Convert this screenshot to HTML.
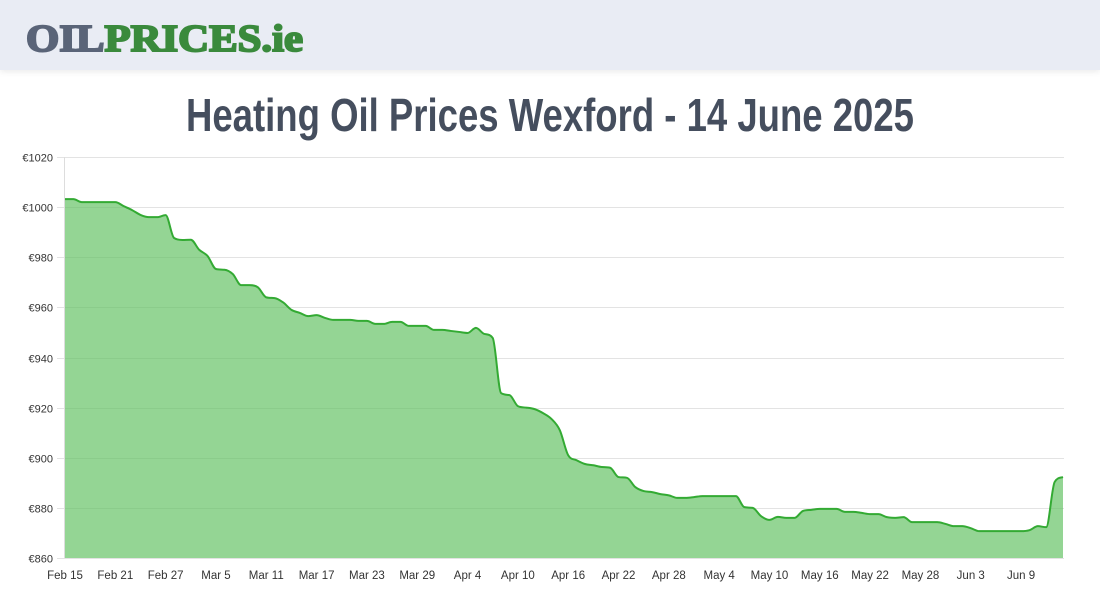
<!DOCTYPE html>
<html><head><meta charset="utf-8">
<style>
html,body{margin:0;padding:0;background:#fff;width:1100px;height:600px;overflow:hidden;font-family:"Liberation Sans",sans-serif}
#hdr{position:absolute;left:0;top:0;width:1100px;height:70px;background:#e9ecf4;box-shadow:0 2px 6px rgba(0,0,0,0.08)}
svg{position:absolute;left:0;top:0}
</style></head><body>
<div id="hdr"></div>
<svg id="chart" width="1100" height="600">
  <text x="26" y="51" font-family="Liberation Serif,serif" font-weight="bold" font-size="38" stroke-width="2" textLength="277" lengthAdjust="spacingAndGlyphs"><tspan fill="#5a6478" stroke="#5a6478">OIL</tspan><tspan fill="#3a8a3c" stroke="#3a8a3c">PRICES.ie</tspan></text>
  <text x="550" y="131" text-anchor="middle" font-family="'Liberation Sans Narrow','Liberation Sans',sans-serif" font-weight="bold" font-size="46" fill="#454e5e" textLength="728" lengthAdjust="spacingAndGlyphs">Heating Oil Prices Wexford - 14 June 2025</text>
  <g id="grid"></g>
  <g id="plot"></g>
  <g id="axes"></g>
</svg>
<script>
const prices=[1003.2,1003.2,1002,1002,1002,1002,1002,1000.4,998.8,996.9,996,996,996.8,987.7,986.9,987,983,980.5,975.3,975,973.3,968.9,968.9,968,964,963.7,962,959,957.8,956.5,956.9,955.8,955,955,955,954.6,954.6,953.4,953.4,954.2,954.2,952.6,952.6,952.6,951,951,950.6,950.2,949.8,951.8,949.4,947.8,925.8,925,920.6,920,919.4,917.8,915.5,911,901,899,897.5,897,896.3,896,892.3,892,888.3,886.7,886.3,885.5,885,884,884,884.3,884.7,884.7,884.7,884.7,884.7,880.3,880,876.7,875.2,876.4,876,876,878.8,879.2,879.6,879.6,879.6,878.4,878.4,878,877.5,877.5,876.3,876,876.3,874.3,874.3,874.3,874.3,873.6,872.7,872.7,871.9,870.7,870.7,870.7,870.7,870.7,870.7,871.1,872.7,872.3,890.3,892.3];
const yTicks=[860,880,900,920,940,960,980,1000,1020];
const xLabels=["Feb 15","Feb 21","Feb 27","Mar 5","Mar 11","Mar 17","Mar 23","Mar 29","Apr 4","Apr 10","Apr 16","Apr 22","Apr 28","May 4","May 10","May 16","May 22","May 28","Jun 3","Jun 9"];
const labelStep=6;
const X0=65,X1=1063,Y0=558,Y1=157,VMIN=860,VMAX=1020;
const NS="http://www.w3.org/2000/svg";
function xs(i){return X0+i*(X1-X0)/(prices.length-1);}
function ys(v){return Y0-(v-VMIN)/(VMAX-VMIN)*(Y0-Y1);}
function mk(t,a,p){const e=document.createElementNS(NS,t);for(const k in a)e.setAttribute(k,a[k]);p.appendChild(e);return e;}
const grid=document.getElementById('grid'),axes=document.getElementById('axes'),plot=document.getElementById('plot');
yTicks.forEach(v=>{
  const y=Math.round(ys(v))+0.5;
  const l=mk('line',{x1:57,x2:X1+1,y1:y,y2:y,stroke:'#e3e3e3','stroke-width':1},grid);
  
  
  const t=mk('text',{x:53,y:y+4,'text-anchor':'end','font-size':11,fill:'#333'},axes);
  t.textContent='€'+v;
  
  
});
const ax=mk('line',{x1:64.5,x2:64.5,y1:Y1,y2:Y0,stroke:'#ddd'},grid);


xLabels.forEach((s,k)=>{
  const t=mk('text',{x:xs(k*labelStep),y:579,'text-anchor':'middle','font-size':11.5,fill:'#333'},axes);
  t.textContent=s;
  
  
});
const n=prices.length,P=prices.map((v,i)=>[xs(i),ys(v)]);
const d=[],m=[];
for(let i=0;i<n-1;i++)d.push((P[i+1][1]-P[i][1])/(P[i+1][0]-P[i][0]));
m[0]=d[0];m[n-1]=d[n-2];
for(let i=1;i<n-1;i++)m[i]=(d[i-1]*d[i]<=0)?0:(d[i-1]+d[i])/2;
for(let i=0;i<n-1;i++){if(d[i]===0){m[i]=0;m[i+1]=0;continue;}const a=m[i]/d[i],b=m[i+1]/d[i],s=a*a+b*b;if(s>9){const t=3/Math.sqrt(s);m[i]=t*a*d[i];m[i+1]=t*b*d[i];}}
let path='M'+P[0][0]+','+P[0][1];
for(let i=0;i<n-1;i++){const h=(P[i+1][0]-P[i][0])/3;path+=' C'+(P[i][0]+h)+','+(P[i][1]+m[i]*h)+' '+(P[i+1][0]-h)+','+(P[i+1][1]-m[i+1]*h)+' '+P[i+1][0]+','+P[i+1][1];}
const area=mk('path',{d:path+' L'+P[n-1][0]+','+Y0+' L'+P[0][0]+','+Y0+' Z',fill:'#5cc05c','fill-opacity':0.66},plot);


const line=mk('path',{d:path,fill:'none',stroke:'#33aa33','stroke-width':2},plot);


</script>
</body></html>
